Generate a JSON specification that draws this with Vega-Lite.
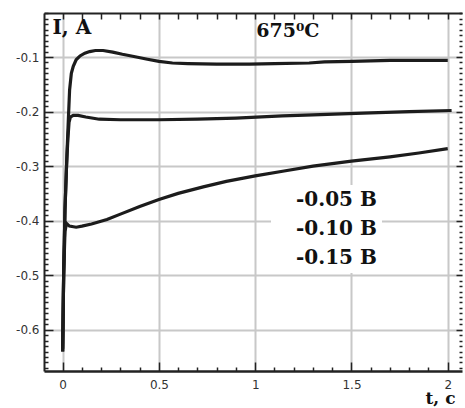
{
  "$schema": "https://vega.github.io/schema/vega-lite/v6.json",
  "width": 418,
  "height": 358,
  "autosize": {"type": "none"},
  "padding": {"left": 44, "top": 13, "right": 3, "bottom": 37},
  "background": "white",
  "config": {"view": {"stroke": null}},
  "datasets": {
    "curves": [
      {"series": "-0.05 B", "t": 0.0, "I": -0.635},
      {"series": "-0.05 B", "t": 0.005, "I": -0.5},
      {"series": "-0.05 B", "t": 0.012, "I": -0.38},
      {"series": "-0.05 B", "t": 0.022, "I": -0.28},
      {"series": "-0.05 B", "t": 0.03, "I": -0.21},
      {"series": "-0.05 B", "t": 0.036, "I": -0.16},
      {"series": "-0.05 B", "t": 0.045, "I": -0.13},
      {"series": "-0.05 B", "t": 0.055, "I": -0.117},
      {"series": "-0.05 B", "t": 0.07, "I": -0.105},
      {"series": "-0.05 B", "t": 0.09, "I": -0.098},
      {"series": "-0.05 B", "t": 0.115, "I": -0.093},
      {"series": "-0.05 B", "t": 0.14, "I": -0.09},
      {"series": "-0.05 B", "t": 0.17, "I": -0.088},
      {"series": "-0.05 B", "t": 0.21, "I": -0.088},
      {"series": "-0.05 B", "t": 0.26, "I": -0.091},
      {"series": "-0.05 B", "t": 0.31, "I": -0.095},
      {"series": "-0.05 B", "t": 0.37, "I": -0.099},
      {"series": "-0.05 B", "t": 0.44, "I": -0.104},
      {"series": "-0.05 B", "t": 0.5, "I": -0.108},
      {"series": "-0.05 B", "t": 0.57, "I": -0.111},
      {"series": "-0.05 B", "t": 0.65, "I": -0.112},
      {"series": "-0.05 B", "t": 0.8, "I": -0.113},
      {"series": "-0.05 B", "t": 0.97, "I": -0.113},
      {"series": "-0.05 B", "t": 1.1, "I": -0.112},
      {"series": "-0.05 B", "t": 1.28, "I": -0.111},
      {"series": "-0.05 B", "t": 1.36, "I": -0.109},
      {"series": "-0.05 B", "t": 1.5, "I": -0.108},
      {"series": "-0.05 B", "t": 1.7, "I": -0.106},
      {"series": "-0.05 B", "t": 1.85, "I": -0.106},
      {"series": "-0.05 B", "t": 2.0, "I": -0.106},
      {"series": "-0.10 B", "t": 0.0, "I": -0.64},
      {"series": "-0.10 B", "t": 0.005, "I": -0.5},
      {"series": "-0.10 B", "t": 0.012, "I": -0.38},
      {"series": "-0.10 B", "t": 0.02, "I": -0.3},
      {"series": "-0.10 B", "t": 0.027, "I": -0.25},
      {"series": "-0.10 B", "t": 0.033, "I": -0.22},
      {"series": "-0.10 B", "t": 0.04, "I": -0.21},
      {"series": "-0.10 B", "t": 0.055, "I": -0.207},
      {"series": "-0.10 B", "t": 0.08, "I": -0.207},
      {"series": "-0.10 B", "t": 0.12, "I": -0.21},
      {"series": "-0.10 B", "t": 0.19, "I": -0.214},
      {"series": "-0.10 B", "t": 0.3, "I": -0.215},
      {"series": "-0.10 B", "t": 0.5, "I": -0.215},
      {"series": "-0.10 B", "t": 0.7, "I": -0.214},
      {"series": "-0.10 B", "t": 0.9, "I": -0.212},
      {"series": "-0.10 B", "t": 1.14, "I": -0.208},
      {"series": "-0.10 B", "t": 1.3, "I": -0.206},
      {"series": "-0.10 B", "t": 1.56, "I": -0.203},
      {"series": "-0.10 B", "t": 1.8, "I": -0.2},
      {"series": "-0.10 B", "t": 2.02, "I": -0.198},
      {"series": "-0.15 B", "t": 0.0, "I": -0.64},
      {"series": "-0.15 B", "t": 0.005, "I": -0.5},
      {"series": "-0.15 B", "t": 0.012, "I": -0.42},
      {"series": "-0.15 B", "t": 0.02, "I": -0.405},
      {"series": "-0.15 B", "t": 0.035, "I": -0.41},
      {"series": "-0.15 B", "t": 0.07, "I": -0.412},
      {"series": "-0.15 B", "t": 0.1, "I": -0.41},
      {"series": "-0.15 B", "t": 0.15, "I": -0.406},
      {"series": "-0.15 B", "t": 0.23, "I": -0.398},
      {"series": "-0.15 B", "t": 0.3, "I": -0.388},
      {"series": "-0.15 B", "t": 0.4, "I": -0.374},
      {"series": "-0.15 B", "t": 0.5, "I": -0.361},
      {"series": "-0.15 B", "t": 0.6, "I": -0.35},
      {"series": "-0.15 B", "t": 0.73, "I": -0.338},
      {"series": "-0.15 B", "t": 0.85, "I": -0.328},
      {"series": "-0.15 B", "t": 1.0, "I": -0.318},
      {"series": "-0.15 B", "t": 1.15, "I": -0.309},
      {"series": "-0.15 B", "t": 1.3, "I": -0.3},
      {"series": "-0.15 B", "t": 1.5, "I": -0.291},
      {"series": "-0.15 B", "t": 1.7, "I": -0.283},
      {"series": "-0.15 B", "t": 1.85, "I": -0.276},
      {"series": "-0.15 B", "t": 2.0, "I": -0.268}
    ],
    "notes": [
      {"t": 1.006, "I": -0.064, "label": "675⁰C"}
    ]
  },
  "layer": [
    {
      "data": {"name": "curves"},
      "mark": {"type": "line", "strokeWidth": 3.2, "clip": true},
      "encoding": {
        "x": {
          "field": "t", "type": "quantitative",
          "scale": {"domain": [-0.097, 2.074], "nice": false, "zero": false},
          "axis": {
            "orient": "bottom",
            "title": "t, c",
            "titleFont": "DejaVu Serif", "titleFontWeight": "bold", "titleFontSize": 17, "titleColor": "#111",
            "titleAnchor": "end", "titleAlign": "right", "titleBaseline": "alphabetic",
            "titleX": 411, "titleY": 32,
            "values": [0, 0.1, 0.2, 0.3, 0.4, 0.5, 0.6, 0.7, 0.8, 0.9, 1, 1.1, 1.2, 1.3, 1.4, 1.5, 1.6, 1.7, 1.8, 1.9, 2],
            "labelExpr": "abs(datum.value*2 - round(datum.value*2)) < 1e-6 ? format(datum.value, '~g') : ''",
            "labelFont": "DejaVu Sans", "labelFontSize": 12, "labelColor": "#333",
            "labelPadding": 17,
            "tickColor": "#222", "tickWidth": 1.5,
            "tickSize": {"condition": {"test": "abs(datum.value*2 - round(datum.value*2)) < 1e-6", "value": -9}, "value": -4},
            "grid": true, "gridColor": "#c8c8c8", "gridWidth": 2,
            "gridOpacity": {"condition": {"test": "abs(datum.value*2 - round(datum.value*2)) < 1e-6", "value": 1}, "value": 0},
            "domainColor": "#222", "domainWidth": 2.5
          }
        },
        "y": {
          "field": "I", "type": "quantitative",
          "scale": {"domain": [-0.6756, -0.0193], "nice": false, "zero": false},
          "axis": {
            "orient": "left",
            "title": "I, A",
            "titleFont": "DejaVu Serif", "titleFontWeight": "bold", "titleFontSize": 20, "titleColor": "#111",
            "titleAngle": 0, "titleAlign": "left", "titleBaseline": "alphabetic",
            "titleX": 8, "titleY": 20,
            "values": [-0.67, -0.66, -0.65, -0.64, -0.63, -0.62, -0.61, -0.6, -0.59, -0.58, -0.57, -0.56, -0.55, -0.54, -0.53, -0.52, -0.51, -0.5, -0.49, -0.48, -0.47, -0.46, -0.45, -0.44, -0.43, -0.42, -0.41, -0.4, -0.39, -0.38, -0.37, -0.36, -0.35, -0.34, -0.33, -0.32, -0.31, -0.3, -0.29, -0.28, -0.27, -0.26, -0.25, -0.24, -0.23, -0.22, -0.21, -0.2, -0.19, -0.18, -0.17, -0.16, -0.15, -0.14, -0.13, -0.12, -0.11, -0.1, -0.09, -0.08, -0.07, -0.06, -0.05, -0.04, -0.03, -0.02],
            "labelExpr": "abs(datum.value*10 - round(datum.value*10)) < 1e-6 ? '-' + format(abs(datum.value), '.1f') : ''",
            "labelFont": "DejaVu Sans", "labelFontSize": 12, "labelColor": "#333",
            "labelPadding": 14,
            "tickColor": "#222", "tickWidth": 1.5,
            "tickSize": {"condition": {"test": "abs(datum.value*10 - round(datum.value*10)) < 1e-6", "value": -9}, "value": -4},
            "grid": true, "gridColor": "#c8c8c8", "gridWidth": 2,
            "gridOpacity": {"condition": {"test": "abs(datum.value*10 - round(datum.value*10)) < 1e-6", "value": 1}, "value": 0},
            "domainColor": "#222", "domainWidth": 2
          }
        },
        "color": {
          "field": "series", "type": "nominal",
          "scale": {"domain": ["-0.05 B", "-0.10 B", "-0.15 B"], "range": ["#1c1c1c", "#1c1c1c", "#1c1c1c"]},
          "legend": {
            "title": null,
            "orient": "none", "legendX": 227, "legendY": 172,
            "fillColor": "white", "padding": 5,
            "symbolSize": 0, "symbolStrokeWidth": 0, "symbolOpacity": 0, "labelOffset": 0,
            "labelFont": "DejaVu Serif", "labelFontWeight": "bold", "labelFontSize": 20, "labelColor": "#111",
            "rowPadding": 9
          }
        }
      }
    },
    {
      "data": {"name": "curves"},
      "mark": {"type": "line", "opacity": 0},
      "encoding": {
        "x": {
          "field": "t", "type": "quantitative",
          "axis": {
            "orient": "top", "title": null, "labels": false, "grid": false,
            "values": [0, 0.1, 0.2, 0.3, 0.4, 0.5, 0.6, 0.7, 0.8, 0.9, 1, 1.1, 1.2, 1.3, 1.4, 1.5, 1.6, 1.7, 1.8, 1.9, 2],
            "tickColor": "#222", "tickWidth": 1.5, "tickSize": -6,
            "domainColor": "#222", "domainWidth": 2
          }
        },
        "y": {
          "field": "I", "type": "quantitative",
          "axis": {
            "orient": "right", "title": null, "labels": false, "grid": false,
            "values": [-0.67, -0.66, -0.65, -0.64, -0.63, -0.62, -0.61, -0.6, -0.59, -0.58, -0.57, -0.56, -0.55, -0.54, -0.53, -0.52, -0.51, -0.5, -0.49, -0.48, -0.47, -0.46, -0.45, -0.44, -0.43, -0.42, -0.41, -0.4, -0.39, -0.38, -0.37, -0.36, -0.35, -0.34, -0.33, -0.32, -0.31, -0.3, -0.29, -0.28, -0.27, -0.26, -0.25, -0.24, -0.23, -0.22, -0.21, -0.2, -0.19, -0.18, -0.17, -0.16, -0.15, -0.14, -0.13, -0.12, -0.11, -0.1, -0.09, -0.08, -0.07, -0.06, -0.05, -0.04, -0.03, -0.02],
            "tickColor": "#222", "tickWidth": 1.5,
            "tickSize": {"condition": {"test": "abs(datum.value*10 - round(datum.value*10)) < 1e-6", "value": -6}, "value": -3},
            "domain": false
          }
        },
        "detail": {"field": "series", "type": "nominal"}
      }
    },
    {
      "data": {"name": "notes"},
      "mark": {"type": "text", "font": "DejaVu Serif", "fontWeight": "bold", "fontSize": 19, "align": "left", "baseline": "alphabetic", "color": "#111"},
      "encoding": {
        "x": {"field": "t", "type": "quantitative", "axis": null},
        "y": {"field": "I", "type": "quantitative", "axis": null},
        "text": {"field": "label"}
      }
    }
  ],
  "resolve": {"axis": {"x": "independent", "y": "independent"}}
}
